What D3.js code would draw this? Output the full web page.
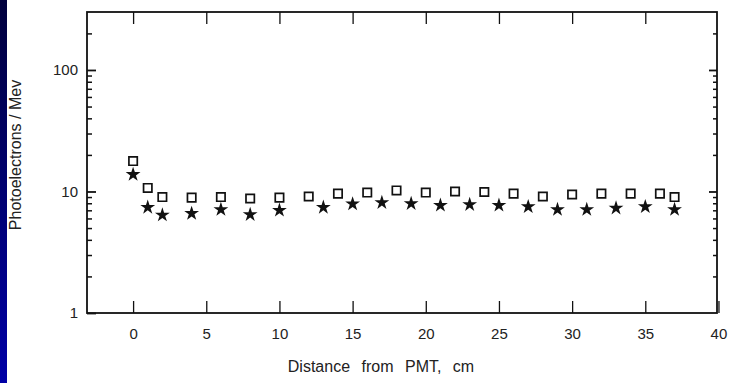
<!DOCTYPE html>
<html>
<head>
<meta charset="utf-8">
<script src="https://cdn.jsdelivr.net/npm/d3@7"></script>
<style>
  html, body { margin: 0; padding: 0; background: #fff; }
  #chart { width: 729px; height: 383px; }
  .axis path, .axis line { stroke: #111; }
  .axis text { font-family: "Liberation Sans", Arial, sans-serif; font-size: 15px; fill: #222; }
</style>
</head>
<body>
<div id="chart"></div>
<script>
// Photoelectrons per MeV vs distance from PMT (log scale)
const squareX = [0, 1, 2, 4, 6, 8, 10, 12, 14, 16, 18, 20, 22, 24, 26, 28, 30, 32, 34, 36, 37];
const squareY = [17.8, 10.7, 9.0, 8.9, 9.0, 8.75, 8.9, 9.1, 9.6, 9.8, 10.2, 9.8, 10.0, 9.9, 9.6, 9.1, 9.45, 9.6, 9.6, 9.6, 9.0];
const starX = [0, 1, 2, 4, 6, 8, 10, 13, 15, 17, 19, 21, 23, 25, 27, 29, 31, 33, 35, 37];
const starY = [13.8, 7.4, 6.4, 6.6, 7.1, 6.45, 7.0, 7.4, 7.9, 8.1, 7.95, 7.7, 7.8, 7.7, 7.5, 7.1, 7.1, 7.3, 7.5, 7.1];

const xTicks = [0, 5, 10, 15, 20, 25, 30, 35, 40];
const yMajor = [1, 10, 100];
const yMinor = [2, 3, 4, 5, 6, 7, 8, 9, 20, 30, 40, 50, 60, 70, 80, 90, 200];

const W = 729, H = 383;
const margin = { top: 12, right: 12, bottom: 70, left: 87 };
const width = W - margin.left - margin.right;
const height = H - margin.top - margin.bottom;

const root = d3.select("#chart").append("svg")
    .attr("width", W)
    .attr("height", H);

// blue strip on the left edge
const grad = root.append("defs").append("linearGradient")
    .attr("id", "strip").attr("x1", 0).attr("y1", 0).attr("x2", 0).attr("y2", 1);
grad.append("stop").attr("offset", "0%").attr("stop-color", "#00003c");
grad.append("stop").attr("offset", "100%").attr("stop-color", "#0000a6");
root.append("rect").attr("x", 0).attr("y", 0).attr("width", 7).attr("height", H).attr("fill", "url(#strip)");

const svg = root.append("g").attr("transform", `translate(${margin.left},${margin.top})`);

const x = d3.scaleLinear().domain([-3.15, 39.9]).range([0, width]);
const y = d3.scaleLog().domain([1, 300]).range([height, 0]);

// frame
svg.append("rect")
    .attr("width", width).attr("height", height)
    .attr("fill", "none").attr("stroke", "#111").attr("stroke-width", 1.8);

// bottom axis (ticks inward)
const gx = svg.append("g").attr("class", "axis")
    .attr("transform", `translate(0,${height})`)
    .call(d3.axisBottom(x).tickValues(xTicks).tickSize(-12).tickPadding(15).tickFormat(d3.format("d")));
gx.select(".domain").remove();
gx.selectAll("line").attr("stroke-width", 1.3);

// top axis
const gt = svg.append("g").attr("class", "axis")
    .call(d3.axisTop(x).tickValues(xTicks.slice(0, -1)).tickSize(-12).tickFormat(""));
gt.select(".domain").remove();
gt.selectAll("line").attr("stroke-width", 1.3);

// left axis, major + minor
const gl = svg.append("g").attr("class", "axis")
    .call(d3.axisLeft(y).tickValues(yMajor).tickSize(-9).tickPadding(9).tickFormat(d3.format("d")));
gl.select(".domain").remove();
gl.selectAll("line").attr("stroke-width", 1.8);
const glm = svg.append("g").attr("class", "axis")
    .call(d3.axisLeft(y).tickValues(yMinor).tickSize(-5).tickFormat(""));
glm.select(".domain").remove();
glm.selectAll("line").attr("stroke-width", 1.5);

// right axis, major + minor
const gr = svg.append("g").attr("class", "axis")
    .attr("transform", `translate(${width},0)`)
    .call(d3.axisRight(y).tickValues(yMajor.slice(1)).tickSize(-8).tickFormat(""));
gr.select(".domain").remove();
gr.selectAll("line").attr("stroke-width", 1.8);
const grm = svg.append("g").attr("class", "axis")
    .attr("transform", `translate(${width},0)`)
    .call(d3.axisRight(y).tickValues(yMinor).tickSize(-4).tickFormat(""));
grm.select(".domain").remove();
grm.selectAll("line").attr("stroke-width", 1.5);

// axis labels
root.append("text")
    .attr("x", 381)
    .attr("y", 368)
    .attr("text-anchor", "middle")
    .attr("dominant-baseline", "middle")
    .attr("font-family", "Liberation Sans, Arial, sans-serif")
    .attr("font-size", "16px")
    .attr("word-spacing", "7px")
    .attr("fill", "#222")
    .text("Distance from PMT, cm");

root.append("text")
    .attr("transform", "translate(17,155) rotate(-90)")
    .attr("text-anchor", "middle")
    .attr("dominant-baseline", "middle")
    .attr("font-family", "Liberation Sans, Arial, sans-serif")
    .attr("font-size", "16px")
    .attr("fill", "#222")
    .text("Photoelectrons / Mev");

// open squares
const squares = squareX.map((d, i) => ({ x: d, y: squareY[i] }));
svg.selectAll(".sq")
    .data(squares)
    .enter()
    .append("path")
    .attr("class", "sq")
    .attr("transform", d => `translate(${x(d.x)},${y(d.y)})`)
    .attr("d", d3.symbol().type(d3.symbolSquare).size(70))
    .attr("fill", "none")
    .attr("stroke", "#111")
    .attr("stroke-width", 1.7);

// filled stars
const stars = starX.map((d, i) => ({ x: d, y: starY[i] }));
svg.selectAll(".star")
    .data(stars)
    .enter()
    .append("path")
    .attr("class", "star")
    .attr("transform", d => `translate(${x(d.x)},${y(d.y)})`)
    .attr("d", d3.symbol().type(d3.symbolStar).size(68))
    .attr("fill", "#111");
</script>
</body>
</html>
